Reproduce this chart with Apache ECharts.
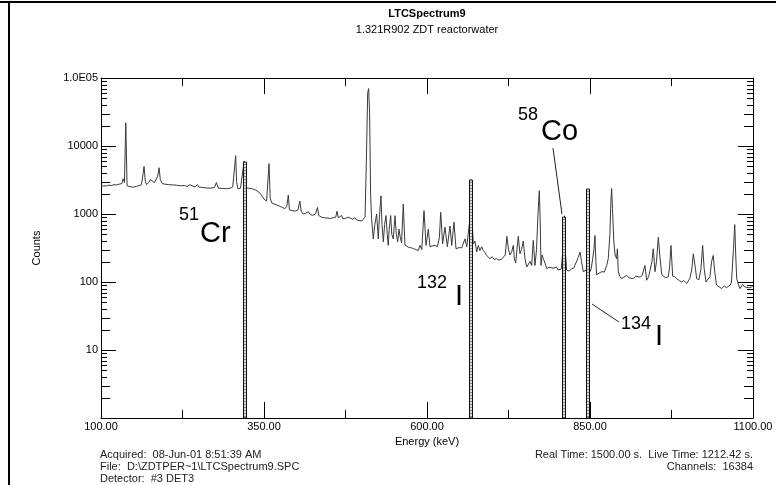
<!DOCTYPE html>
<html>
<head>
<meta charset="utf-8">
<script src="https://cdn.jsdelivr.net/npm/echarts@6/dist/echarts.min.js"></script>
<style>
	html, body { margin: 0; padding: 0; background: #fff; }
	#chart { width: 776px; height: 485px; }
</style>
</head>
<body>
<div id="chart"></div>
<script>
// spectrum points: [energy keV, counts]
var spectrum = [
	[100, 2550], [104, 2600], [108, 2580], [112, 2650], [116, 2620], [120, 2700], [124, 2680], [128, 2750],
	[132, 2800], [134, 3300], [136, 2900], [138, 22000], [140, 2600], [142, 2450], [146, 2500], [150, 2480],
	[154, 2550], [158, 2600], [162, 2700], [164, 3600], [166, 5000], [168, 3000], [170, 2700], [173, 2900],
	[176, 3200], [179, 3000], [182, 2900], [185, 3100], [187, 3600], [189, 4800], [191, 3200], [194, 2800],
	[198, 2750], [204, 2700], [210, 2680], [216, 2650], [222, 2600], [228, 2620], [232, 2550], [236, 2700],
	[238, 2550], [244, 2500], [248, 2700], [250, 2500], [256, 2450], [262, 2420], [268, 2400], [274, 2450],
	[277, 2900], [280, 2400], [286, 2380], [292, 2350], [298, 2400], [302, 2500], [305, 5000], [306.5, 7200],
	[308, 3000], [310, 2350], [314, 2400], [317, 2450], [319.5, 6000], [321, 2450], [326, 2400], [332, 2350],
	[337, 2250], [342, 2100], [346, 1900], [350, 1650], [354, 1550], [356, 1500], [357.7, 5500], [359.5, 1700],
	[362, 1450], [366, 1400], [370, 1350], [374, 1300], [378, 1250], [382, 1200], [385, 1300], [387.3, 1900],
	[389, 1150], [393, 1120], [398, 1100], [402, 1150], [405, 1550], [407, 1100], [410, 1000], [414, 1020],
	[418, 1080], [421, 980], [425, 960], [429, 1000], [432, 1250], [434, 950], [438, 900], [443, 880],
	[448, 870], [452, 860], [456, 880], [460, 900], [462, 1100], [464, 880], [467, 860], [469, 950],
	[471, 850], [475, 860], [479, 900], [482, 850], [486, 840], [489.6, 880], [492, 820], [496, 800],
	[500, 790], [503, 780], [505, 900], [507, 6000], [509, 60000], [510.5, 70000], [512, 30000], [513.5, 2000],
	[515, 850], [517.6, 430], [520, 700], [522.8, 1000], [525.3, 430], [527, 900], [529.4, 1850], [531, 700],
	[533, 390], [535, 700], [537.1, 950], [539, 500], [540.6, 345], [542, 600], [544.3, 950], [546, 500],
	[548.3, 430], [550.9, 945], [553, 500], [555, 390], [557, 600], [559, 450], [561, 380], [563.6, 1400],
	[566.2, 350], [569, 330], [571.3, 325], [575, 320], [579, 310], [583, 300], [586.6, 290], [589.3, 345],
	[592, 300], [595.4, 1120], [598.5, 345], [602, 600], [604.6, 330], [608, 340], [612.3, 345], [616, 330],
	[619, 450], [621, 1060], [624, 365], [627.6, 640], [631.2, 330], [635.3, 665], [637.9, 345], [641.4, 760],
	[644.5, 308], [649, 320], [653.2, 318], [656, 330], [658.3, 432], [661, 330], [663.4, 345], [665.5, 800],
	[667.7, 3200], [669.5, 700], [671, 365], [673.6, 400], [676.2, 276], [678.7, 345], [681, 290], [683.9, 330],
	[686.3, 290], [689, 270], [691.5, 246], [694, 260], [696.6, 220], [700, 235], [703, 215], [706.9, 220],
	[710, 210], [714, 215], [717, 203], [720, 250], [722.5, 470], [725, 300], [727.3, 250], [730, 280],
	[732.4, 345], [734, 220], [736, 190], [738, 300], [740, 470], [742.6, 260], [745, 300], [747.7, 400],
	[750.3, 220], [752.9, 166], [755.4, 160], [758, 200], [760.6, 175], [763, 410], [765.6, 175], [768, 300],
	[770, 900], [772.2, 2200], [773.5, 900], [774.8, 175], [776.5, 250], [778.4, 220], [781, 190], [783.6, 157],
	[787, 165], [790, 155], [793.7, 160], [796, 150], [798.9, 166], [801, 150], [804, 150], [806, 155],
	[808, 150], [809.5, 400], [810.8, 940], [812, 300], [814.2, 150], [818, 145], [821.9, 157], [825, 160],
	[827, 170], [829.6, 203], [832, 230], [834.7, 276], [837, 200], [839.7, 142], [842, 145], [844.5, 150],
	[846.5, 2300], [848.5, 170], [850, 142], [852, 160], [854.1, 220], [856, 300], [857.6, 482], [859, 200],
	[860.2, 128], [864, 135], [867.9, 142], [872, 140], [875.6, 175], [878, 220], [880.5, 500], [882, 1500],
	[883.2, 2370], [884.5, 1200], [886.5, 400], [888.5, 250], [890.9, 220], [892, 308], [893.4, 142], [896, 120],
	[898.6, 112], [902, 118], [906.2, 125], [910, 115], [913, 120], [916.4, 112], [920, 122], [923, 115],
	[926.7, 118], [930, 125], [932, 130], [934.3, 175], [936.9, 106], [940, 120], [943, 125], [945, 200],
	[947, 308], [949.7, 142], [952, 200], [954.8, 457], [957, 250], [960, 128], [963, 120], [966, 115],
	[970, 120], [972, 160], [974.2, 345], [976.8, 122], [980, 120], [983, 112], [987, 105], [990.6, 100],
	[994, 105], [998.3, 95], [1001, 100], [1003, 112], [1006, 150], [1008.5, 260], [1010, 276], [1012, 150],
	[1013.6, 112], [1017, 108], [1020, 150], [1022.8, 345], [1025, 160], [1027.9, 100], [1031, 110], [1034, 120],
	[1036.5, 200], [1039, 246], [1041, 150], [1044, 90], [1048, 85], [1052, 80], [1056, 88], [1059, 82],
	[1062, 85], [1065, 90], [1067, 100], [1070, 300], [1072, 698], [1073.5, 250], [1075, 112], [1078, 90],
	[1080, 80], [1084, 92], [1087, 85], [1090, 90], [1094, 82], [1098, 85], [1100, 88]
];

// marked isotopes
var isoMass = ['51', '132', '58', '134'];
var isoSymbol = ['Cr', 'I', 'Co', 'I'];
var isoEnergy = [320.1, 667.7, 810.8, 847.0];
var isoTop = [5800, 3160, 900, 2330];

// log axis minor ticks
var yMinorTicks = [];
[1, 10, 100, 1000, 10000].forEach(function(dec) {
	for (var m = 2; m <= 9; m++) yMinorTicks.push(m * dec);
});

// pixel offsets of the labels from the top of each marker
var labelLayout = [
	{ num: [-66, 53], sym: [-45, 72], lead: null },
	{ num: [-54, 103], sym: [-16, 117], lead: null },
	{ num: [-46, -102], sym: [-23, -85], lead: [-11, -69, -2, -3] },
	{ num: [33, 135], sym: [67, 148], lead: [4, 115, 31, 133] }
];

var FONT = 'Liberation Sans, Arial, sans-serif';
var chart = echarts.init(document.getElementById('chart'));

var xBase = {
	type: 'value',
	min: 100,
	max: 1100,
	interval: 250,
	axisLine: { lineStyle: { color: '#000', width: 1 } },
	axisTick: { inside: true, length: 16, lineStyle: { color: '#000' } },
	minorTick: { show: true, splitNumber: 2, length: 8, lineStyle: { color: '#000' } },
	splitLine: { show: false }
};
var yBase = {
	type: 'log',
	logBase: 10,
	min: 1,
	max: 100000,
	axisLine: { show: true, lineStyle: { color: '#000', width: 1 } },
	axisTick: { show: true, inside: true, length: 15, lineStyle: { color: '#000' } },
	splitLine: { show: false }
};

var option = {
	animation: false,
	backgroundColor: '#fff',
	grid: { left: 101, right: 23, top: 78, bottom: 67 },
	xAxis: [
		Object.assign({}, xBase, {
			position: 'bottom',
			name: 'Energy (keV)',
			nameLocation: 'middle',
			nameGap: 16,
			nameTextStyle: { color: '#000', fontSize: 11, fontFamily: FONT },
			axisLabel: {
				color: '#000', fontSize: 11, fontFamily: FONT, margin: 3,
				formatter: function(v) { return v.toFixed(2); }
			}
		}),
		Object.assign({}, xBase, { position: 'top', axisLabel: { show: false } })
	],
	yAxis: [
		Object.assign({}, yBase, {
			position: 'left',
			name: 'Counts',
			nameLocation: 'middle',
			nameGap: 59,
			nameRotate: 90,
			nameTextStyle: { color: '#000', fontSize: 11, fontFamily: FONT },
			axisLabel: {
				color: '#000', fontSize: 11, fontFamily: FONT, margin: 3,
				formatter: function(v) {
					var r = Math.round(v);
					if (r === 1) return '';
					if (r === 100000) return '1.0E05';
					return String(r);
				}
			}
		}),
		Object.assign({}, yBase, { position: 'right', axisLabel: { show: false } })
	],
	graphic: [
		{ type: 'line', shape: { x1: 0, y1: 2, x2: 776, y2: 2 }, style: { stroke: '#000', lineWidth: 2 } },
		{ type: 'line', shape: { x1: 9, y1: 1, x2: 9, y2: 485 }, style: { stroke: '#000', lineWidth: 2 } },
		{ type: 'text', x: 427, y: 14, style: { text: 'LTCSpectrum9', font: 'bold 11px ' + FONT, fill: '#000', align: 'center', verticalAlign: 'middle' } },
		{ type: 'text', x: 427, y: 30, style: { text: '1.321R902 ZDT reactorwater', font: '11px ' + FONT, fill: '#000', align: 'center', verticalAlign: 'middle' } },
		{ type: 'text', x: 100, y: 455, style: { text: 'Acquired:  08-Jun-01 8:51:39 AM', font: '11px ' + FONT, fill: '#222', verticalAlign: 'middle' } },
		{ type: 'text', x: 100, y: 467, style: { text: 'File:  D:\\ZDTPER~1\\LTCSpectrum9.SPC', font: '11px ' + FONT, fill: '#222', verticalAlign: 'middle' } },
		{ type: 'text', x: 100, y: 479, style: { text: 'Detector:  #3 DET3', font: '11px ' + FONT, fill: '#222', verticalAlign: 'middle' } },
		{ type: 'text', x: 753, y: 455, style: { text: 'Real Time: 1500.00 s.  Live Time: 1212.42 s.', font: '11px ' + FONT, fill: '#222', align: 'right', verticalAlign: 'middle' } },
		{ type: 'text', x: 753, y: 467, style: { text: 'Channels:  16384', font: '11px ' + FONT, fill: '#222', align: 'right', verticalAlign: 'middle' } }
	],
	series: [
		{
			// log minor ticks on both vertical axes
			type: 'custom',
			xAxisIndex: 0,
			yAxisIndex: 0,
			silent: true,
			data: yMinorTicks.map(function(v) { return [100, v]; }),
			renderItem: function(params, api) {
				var v = api.value(1);
				var y = Math.round(api.coord([100, v])[1]) + 0.5;
				var xl = api.coord([100, 1])[0];
				var xr = api.coord([1100, 1])[0];
				var m = Math.round(v / Math.pow(10, Math.floor(Math.log10(v) + 1e-9)));
				var len = m <= 3 ? 9 : 6;
				return {
					type: 'group',
					children: [
						{ type: 'line', shape: { x1: xl, y1: y, x2: xl + len, y2: y }, style: { stroke: '#000', lineWidth: 1 } },
						{ type: 'line', shape: { x1: xr - len, y1: y, x2: xr, y2: y }, style: { stroke: '#000', lineWidth: 1 } }
					]
				};
			}
		},
		{
			type: 'line',
			data: spectrum,
			showSymbol: false,
			sampling: false,
			lineStyle: { color: '#3a3a3a', width: 1 },
			z: 2
		},
		{
			// isotope markers with labels
			type: 'custom',
			xAxisIndex: 0,
			yAxisIndex: 0,
			silent: true,
			z: 4,
			data: isoEnergy.map(function(e, i) { return [e, isoTop[i]]; }),
			renderItem: function(params, api) {
				var i = params.dataIndex;
				var top = api.coord([api.value(0), api.value(1)]);
				var bot = api.coord([api.value(0), 1]);
				var x = Math.round(top[0]);
				var lay = labelLayout[i];
				var kids = [
					{ type: 'rect', shape: { x: x - 1.5, y: top[1], width: 3, height: bot[1] - top[1] }, style: { fill: '#ddd', stroke: '#111', lineWidth: 1 } },
					{ type: 'line', shape: { x1: x, y1: top[1] + 2, x2: x, y2: bot[1] }, style: { stroke: '#222', lineWidth: 1, lineDash: [1, 2] } },
					{ type: 'text', x: x + lay.num[0], y: top[1] + lay.num[1], style: { text: isoMass[i], font: '18px ' + FONT, fill: '#000', verticalAlign: 'middle' } },
					{ type: 'text', x: x + lay.sym[0], y: top[1] + lay.sym[1], style: { text: isoSymbol[i], font: '29px ' + FONT, fill: '#000', verticalAlign: 'middle' } }
				];
				if (lay.lead) {
					kids.push({ type: 'line', shape: { x1: x + lay.lead[0], y1: top[1] + lay.lead[1], x2: x + lay.lead[2], y2: top[1] + lay.lead[3] }, style: { stroke: '#222', lineWidth: 1 } });
				}
				return { type: 'group', children: kids };
			}
		}
	]
};

chart.setOption(option);
</script>
</body>
</html>
